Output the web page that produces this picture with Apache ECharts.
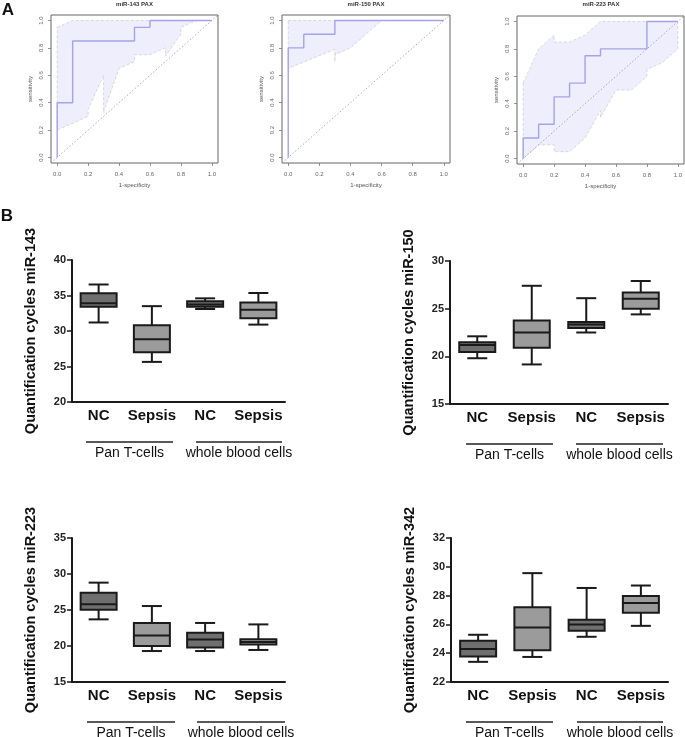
<!DOCTYPE html>
<html>
<head>
<meta charset="utf-8">
<script src="https://cdn.jsdelivr.net/npm/echarts@6/dist/echarts.min.js"></script>
<style>html,body{margin:0;padding:0;background:#fff}#c{width:685px;height:737px}</style>
</head>
<body>
<div id="c"></div>
<script>
// ---------- DATA ----------
const rocTitles = ['miR-143 PAX', 'miR-150 PAX', 'miR-223 PAX'];
const rocTicks = [0, 0.2, 0.4, 0.6, 0.8, 1.0];

const roc143 = [[0,0],[0,0.4],[0.1,0.4],[0.1,0.85],[0.5,0.85],[0.5,0.95],[0.6,0.95],[0.6,1],[1,1]];
const ci143Upper = [[0,0.95],[0.1,1],[1,1]];
const ci143Lower = [[0,0.2],[0.2,0.3],[0.2,0.35],[0.3,0.6],[0.3,0.33],[0.4,0.65],[0.5,0.7],[0.5,0.75],[0.6,0.75],[0.7,0.8],[0.7,0.74],[0.8,0.9],[0.8,0.95],[0.9,1],[1,1]];

const roc150 = [[0,0],[0,0.8],[0.1,0.8],[0.1,0.9],[0.3,0.9],[0.3,1],[1,1]];
const ci150Upper = [[0,1],[1,1]];
const ci150Lower = [[0,0.65],[0.3,0.79],[0.3,0.7],[0.3,0.75],[0.4,0.8],[0.6,1],[1,1]];

const roc223 = [[0,0],[0,0.15],[0.1,0.15],[0.1,0.25],[0.2,0.25],[0.2,0.45],[0.3,0.45],[0.3,0.55],[0.4,0.55],[0.4,0.75],[0.5,0.75],[0.5,0.8],[0.8,0.8],[0.8,1],[1,1]];
const ci223Upper = [[0,0.55],[0.1,0.8],[0.2,0.9],[0.2,0.85],[0.3,0.85],[0.4,0.9],[0.5,1],[1,1]];
const ci223Lower = [[0,0],[0.1,0.1],[0.2,0.1],[0.2,0.05],[0.3,0.05],[0.4,0.15],[0.5,0.35],[0.5,0.3],[0.6,0.5],[0.7,0.5],[0.8,0.6],[0.8,0.65],[0.9,0.7],[1,0.8]];

const groups = ['NC', 'Sepsis', 'NC', 'Sepsis'];
const cellTypes = ['Pan T-cells', 'whole blood cells'];
// [min, Q1, median, Q3, max]
const mir143 = [[31.2,33.4,33.9,35.3,36.55],[25.65,27.0,28.85,30.8,33.5],[33.1,33.4,33.75,34.2,34.6],[30.9,31.8,33.0,34.0,35.35]];
const mir150 = [[19.8,20.45,21.2,21.47,22.1],[19.15,20.9,22.5,23.75,27.4],[22.5,22.97,23.35,23.6,26.1],[24.4,25.0,26.05,26.7,27.9]];
const mir223 = [[23.7,25.05,25.8,27.4,28.8],[19.3,20.0,21.45,23.2,25.55],[19.3,19.8,20.9,21.85,23.2],[19.45,20.2,20.55,20.95,23.0]];
const mir342 = [[23.4,23.77,24.3,24.86,25.28],[23.74,24.2,25.79,27.19,29.56],[25.14,25.56,26.0,26.33,28.53],[25.9,26.81,27.49,27.98,28.7]];
const boxNames = ['Quantification cycles miR-143','Quantification cycles miR-150','Quantification cycles miR-223','Quantification cycles miR-342'];
const boxMin = [20, 15, 15, 22];
const boxMax = [40, 30, 35, 32];
const boxStep = [5, 5, 5, 2];

// ---------- LAYOUT ----------
const FONT = '"Liberation Sans", Arial, sans-serif';
const rocGrids = [
  {left: 51, top: 15, width: 167, height: 148},
  {left: 282, top: 15, width: 168, height: 148},
  {left: 517, top: 16, width: 168, height: 148}
];
const boxGrids = [
  {left: 72, top: 260, width: 213, height: 142},
  {left: 450, top: 261, width: 218, height: 143},
  {left: 72, top: 538, width: 213, height: 144},
  {left: 451, top: 538, width: 217, height: 144}
];
// group underline spans (relative to grid left)
const groupSpans = [[[14,101],[124,210]], [[16,103],[126,213]], [[15,103],[125,213]], [[15,102],[126,212]]];

const rocCurves = [roc143, roc150, roc223];
const rocUpper = [ci143Upper, ci150Upper, ci223Upper];
const rocLower = [ci143Lower, ci150Lower, ci223Lower];
const boxData = [mir143, mir150, mir223, mir342];

const grid = [], xAxis = [], yAxis = [], series = [], graphic = [];

rocGrids.forEach((g, i) => {
  grid.push(Object.assign({show: true, borderColor: '#666', borderWidth: 1, backgroundColor: 'transparent'}, g));
  const common = {
    type: 'value', gridIndex: i, min: -0.04, max: 1.04,
    axisLine: {show: false, onZero: false},
    axisTick: {show: true, customValues: rocTicks, length: 3, inside: false, lineStyle: {color: '#777', width: 0.8}},
    splitLine: {show: false},
    nameLocation: 'middle',
    nameTextStyle: {fontSize: 6, color: '#555', fontFamily: FONT}
  };
  xAxis.push(Object.assign({}, common, {
    name: '1-specificity', nameGap: 19,
    axisLabel: {customValues: rocTicks, fontSize: 6, color: '#666', margin: 8, fontFamily: FONT, formatter: v => v.toFixed(1)}
  }));
  yAxis.push(Object.assign({}, common, {
    name: 'sensitivity', nameGap: 18,
    axisLabel: {customValues: rocTicks, fontSize: 6, color: '#666', margin: 7, rotate: 90, fontFamily: FONT, formatter: v => v.toFixed(1)}
  }));
  const up = rocUpper[i], lo = rocLower[i];
  series.push({
    type: 'custom', xAxisIndex: i, yAxisIndex: i, silent: true, z: 1,
    data: [[0, 0]],
    renderItem: (params, api) => {
      const pts = up.concat(lo.slice().reverse()).map(p => api.coord(p));
      return {type: 'polygon', shape: {points: pts},
        style: {fill: '#eeeefc', stroke: '#cfcfd8', lineWidth: 0.8, lineDash: [3, 2]}};
    }
  });
  series.push({
    type: 'line', xAxisIndex: i, yAxisIndex: i, symbol: 'none', silent: true, z: 2,
    data: [[-0.04, -0.04], [1.04, 1.04]],
    lineStyle: {color: '#999', width: 0.8, type: [1.5, 2]}
  });
  series.push({
    type: 'line', xAxisIndex: i, yAxisIndex: i, symbol: 'none', silent: true, z: 3,
    data: rocCurves[i],
    lineStyle: {color: '#a3a3ea', width: 1.4}
  });
  graphic.push({type: 'text', x: g.left + g.width / 2, y: 4,
    style: {text: rocTitles[i], font: 'bold 6px ' + FONT, fill: '#333', align: 'center', verticalAlign: 'middle'}});
});

boxGrids.forEach((g, k) => {
  const gi = k + 3;
  grid.push(Object.assign({}, g));
  xAxis.push({
    type: 'category', gridIndex: gi, data: groups,
    axisLine: {onZero: false, lineStyle: {color: '#1a1a1a', width: 2}},
    axisTick: {alignWithLabel: true, length: 5, lineStyle: {color: '#1a1a1a', width: 1.5}},
    axisLabel: {interval: 0, fontSize: 15, fontWeight: 'bold', color: '#111', margin: 6, fontFamily: FONT},
    splitLine: {show: false}
  });
  yAxis.push({
    type: 'value', gridIndex: gi, min: boxMin[k], max: boxMax[k], interval: boxStep[k],
    axisLine: {show: true, onZero: false, lineStyle: {color: '#1a1a1a', width: 2}},
    axisTick: {show: true, length: 5, lineStyle: {color: '#1a1a1a', width: 1.5}},
    axisLabel: {fontSize: 11, fontWeight: 'bold', color: '#222', margin: 6, fontFamily: FONT},
    splitLine: {show: false},
    name: boxNames[k], nameLocation: 'middle', nameGap: 34,
    nameTextStyle: {fontSize: 14.5, fontWeight: 'bold', color: '#111', fontFamily: FONT}
  });
  series.push({
    type: 'custom', xAxisIndex: gi, yAxisIndex: gi, silent: true,
    encode: {x: 0, y: [1, 2, 3, 4, 5]},
    data: boxData[k].map((v, i) => [i].concat(v)),
    renderItem: (params, api) => {
      const x = api.value(0);
      const pMin = api.coord([x, api.value(1)]);
      const pQ1 = api.coord([x, api.value(2)]);
      const pMed = api.coord([x, api.value(3)]);
      const pQ3 = api.coord([x, api.value(4)]);
      const pMax = api.coord([x, api.value(5)]);
      const hw = 18, cw = 10;
      const cx = pMed[0];
      const stroke = '#1a1a1a';
      const fill = (x % 2 === 0) ? '#6f6f6f' : '#9b9b9b';
      const ls = {stroke: stroke, lineWidth: 2};
      return {type: 'group', children: [
        {type: 'line', shape: {x1: cx, y1: pMax[1], x2: cx, y2: pQ3[1]}, style: ls},
        {type: 'line', shape: {x1: cx, y1: pMin[1], x2: cx, y2: pQ1[1]}, style: ls},
        {type: 'line', shape: {x1: cx - cw, y1: pMax[1], x2: cx + cw, y2: pMax[1]}, style: ls},
        {type: 'line', shape: {x1: cx - cw, y1: pMin[1], x2: cx + cw, y2: pMin[1]}, style: ls},
        {type: 'rect', shape: {x: cx - hw, y: pQ3[1], width: 2 * hw, height: pQ1[1] - pQ3[1]},
          style: {fill: fill, stroke: stroke, lineWidth: 2}},
        {type: 'line', shape: {x1: cx - hw, y1: pMed[1], x2: cx + hw, y2: pMed[1]}, style: ls}
      ]};
    }
  });
  // group underlines + labels
  const lineY = g.top + g.height + 40;
  groupSpans[k].forEach((sp, j) => {
    const x1 = g.left + sp[0], x2 = g.left + sp[1];
    graphic.push({type: 'line', shape: {x1: x1, y1: lineY, x2: x2, y2: lineY}, style: {stroke: '#222', lineWidth: 1.3}});
    graphic.push({type: 'text', x: (x1 + x2) / 2, y: lineY + 11,
      style: {text: cellTypes[j], font: '14px ' + FONT, fill: '#111', align: 'center', verticalAlign: 'middle'}});
  });
});

graphic.push({type: 'text', x: 8, y: 10, style: {text: 'A', font: 'bold 17px ' + FONT, fill: '#111', align: 'center', verticalAlign: 'middle'}});
graphic.push({type: 'text', x: 7, y: 216, style: {text: 'B', font: 'bold 17px ' + FONT, fill: '#111', align: 'center', verticalAlign: 'middle'}});

const chart = echarts.init(document.getElementById('c'), null, {renderer: 'canvas'});
chart.setOption({animation: false, backgroundColor: '#fff', textStyle: {fontFamily: FONT}, grid, xAxis, yAxis, series, graphic});
</script>
</body>
</html>
